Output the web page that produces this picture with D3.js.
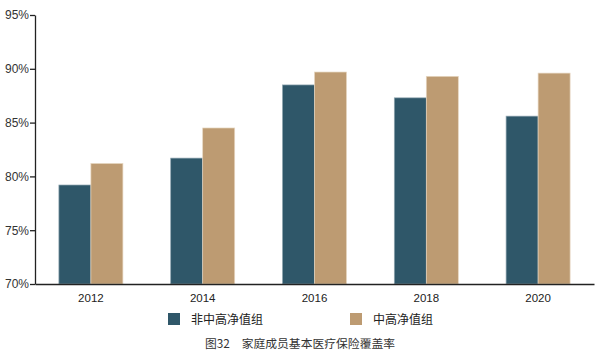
<!DOCTYPE html>
<html><head><meta charset="utf-8">
<script src="https://cdn.jsdelivr.net/npm/d3@7"></script>
<style>body{margin:0;background:#fff}svg{display:block;font-family:"Liberation Sans",Arial,sans-serif}</style>
</head><body>
<svg id="c" width="600" height="357"></svg>
<script>
const years = ["2012","2014","2016","2018","2020"];
const seriesNames = ["非中高净值组","中高净值组"];
const nonHigh = [79.2, 81.7, 88.5, 87.3, 85.6];
const high = [81.2, 84.5, 89.7, 89.3, 89.6];
const yTicks = [70, 75, 80, 85, 90, 95];
const colors = ["#2f5769","#bd9b72"];
const caption = "图32　家庭成员基本医疗保险覆盖率";

const svg = d3.select("#c");
const x = d3.scaleBand().domain(years).range([35, 594]);
const y = d3.scaleLinear().domain([70, 95]).range([284, 15]);
const barW = 32;

const data = [nonHigh, high];
data.forEach((vals, s) => {
  svg.append("g").selectAll("rect").data(vals).join("rect")
    .attr("x", (d, i) => x(years[i]) + x.bandwidth()/2 - barW + s*barW)
    .attr("y", d => y(d))
    .attr("width", barW)
    .attr("height", d => y(70) - y(d))
    .attr("fill", colors[s])
    .attr("stroke", s === 0 ? "#8fa5b0" : "#e6d6c0")
    .attr("stroke-width", 0.7);
});

const yAxis = svg.append("g").attr("transform", "translate(35,0)")
  .call(d3.axisLeft(y).tickValues(yTicks).tickFormat(d => d + "%").tickSize(5).tickSizeOuter(0));
yAxis.select(".domain").attr("stroke", "#222").attr("stroke-width", 1.3);
yAxis.selectAll(".tick line").attr("stroke", "#222").attr("stroke-width", 1.3);
yAxis.selectAll("text").attr("font-size", 12).attr("fill", "#333").attr("x", -6)
  .attr("font-family", "'Liberation Sans',Arial,sans-serif");

const xAxis = svg.append("g").attr("transform", "translate(0,284)")
  .call(d3.axisBottom(x).tickSize(0).tickPadding(10));
xAxis.select(".domain").attr("stroke", "#222").attr("stroke-width", 1.3);
xAxis.selectAll("text").attr("font-size", 11.5).attr("fill", "#222")
  .attr("font-family", "'Liberation Sans',Arial,sans-serif");

const legX = [168, 350];
seriesNames.forEach((n, i) => {
  svg.append("rect").attr("x", legX[i]).attr("y", 313).attr("width", 12).attr("height", 12).attr("fill", colors[i]);
  svg.append("text").attr("x", legX[i] + 23).attr("y", 323.5).text(n)
    .attr("font-size", 12).attr("fill", "#222").attr("font-family", "'Noto Sans CJK SC',sans-serif");
});

svg.append("text").attr("x", 300).attr("y", 347.5).attr("text-anchor", "middle").text(caption)
  .attr("font-size", 11.8).attr("fill", "#333").attr("font-family", "'Noto Sans CJK SC',sans-serif");
</script>
</body></html>
